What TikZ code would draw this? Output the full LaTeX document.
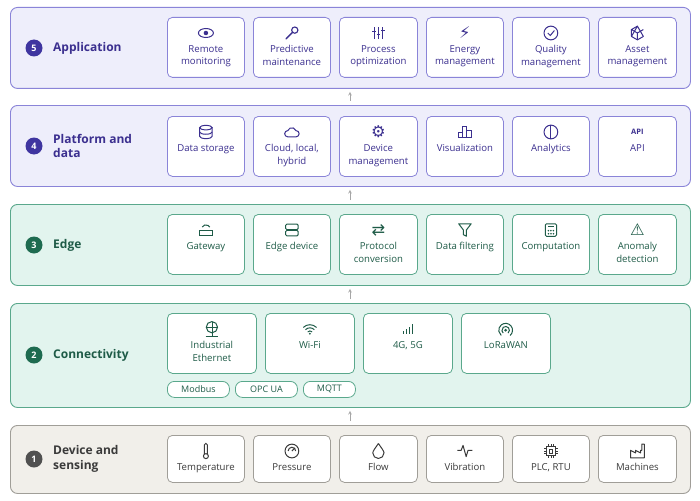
\documentclass[tikz,border=0pt]{standalone}
\usepackage{fontspec}
\setmainfont{Open Sans}
\newfontfamily\symf{DejaVu Sans}
\usetikzlibrary{calc}
\definecolor{pfill}{HTML}{EEEEFB}\definecolor{pline}{HTML}{8A84D8}\definecolor{ptext}{HTML}{3B2F8F}\definecolor{pbadge}{HTML}{3F35A0}
\definecolor{gfill}{HTML}{E2F4EE}\definecolor{gline}{HTML}{5AA88C}\definecolor{gtext}{HTML}{1E5B47}\definecolor{gbadge}{HTML}{1E6B50}
\definecolor{yfill}{HTML}{F1EFEA}\definecolor{yline}{HTML}{A09E98}\definecolor{ytext}{HTML}{3A3A3A}\definecolor{ybadge}{HTML}{505050}
\tikzset{
 band/.style={draw=#1line, fill=#1fill, rounded corners=7pt, line width=0.9pt, anchor=north west, inner sep=0},
 item/.style={draw=#1line, fill=white, rounded corners=5pt, line width=0.8pt, anchor=north west, inner sep=0},
 itxt/.style={text=#1text, font=\fontsize{9.6}{12.8}\selectfont, align=center, anchor=north, inner sep=0},
 icon/.style={text=#1text, font=\symf\fontsize{13}{13}\selectfont, inner sep=0, scale=1.25},
 badge/.style={circle, fill=#1badge, text=white, font=\bfseries\fontsize{9}{9}\selectfont, minimum size=17pt, inner sep=0},
 title/.style={text=#1text, font=\fontsize{12}{14.5}\selectfont\bfseries, align=left, anchor=west, inner sep=0},
 pill/.style={draw=#1line, fill=white, rounded corners=7pt, line width=0.8pt, text=#1text, font=\fontsize{9}{10}\selectfont, minimum height=16pt, inner sep=0, anchor=north west},
 arr/.style={draw=gray!70, line width=0.6pt, ->, >=stealth},
}
% \bx{name}{colour}{x}{top}{w}{h}{icon}{text}
\newcommand{\bx}[8]{%
 \node[item=#2, minimum width=#5pt, minimum height=#6pt] (#1) at (#3,#4) {};
 \node[icon=#2] (#1i) at ($(#1.north)+(0,16)$) {#7};
 \node[itxt=#2] (#1t) at ($(#1.north)+(0,28)$) {#8};}
\begin{document}
\begin{tikzpicture}[x=1pt,y=-1pt]
\useasboundingbox (0,0) rectangle (700,500);
\fill[white] (0,0) rectangle (700,500);
% bands
\node[band=p, minimum width=680pt, minimum height=81pt] (b5) at (10,7) {};
\node[band=p, minimum width=680pt, minimum height=81pt] (b4) at (10,105) {};
\node[band=g, minimum width=680pt, minimum height=81pt] (b3) at (10,204) {};
\node[band=g, minimum width=680pt, minimum height=104pt] (b2) at (10,303) {};
\node[band=y, minimum width=680pt, minimum height=68pt] (b1) at (10,425) {};
% titles
\node[badge=p] (n5) at (34,48) {5}; \node[title=p] (t5) at (53,48) {Application};
\node[badge=p] (n4) at (34,146) {4}; \node[title=p] (t4) at (53,146) {Platform and\\data};
\node[badge=g] (n3) at (34,245) {3}; \node[title=g] (t3) at (53,245) {Edge};
\node[badge=g] (n2) at (34,355) {2}; \node[title=g] (t2) at (53,355) {Connectivity};
\node[badge=y] (n1) at (34,459) {1}; \node[title=y] (t1) at (53,459) {Device and\\sensing};
% layer 5
\bx{a1}{p}{167}{17}{77}{60}{\tikz{\draw[ptext,line width=.8pt] (0,0) ellipse (6pt and 3.6pt);\fill[ptext] (0,0) circle (1.8pt);}}{Remote\\monitoring}
\bx{a2}{p}{253}{17}{77}{60}{\tikz{\draw[ptext,line width=1.1pt,line cap=round] (-4pt,-4pt)--(1.5pt,1.5pt);\draw[ptext,line width=.9pt] (3pt,3pt) circle (2.5pt);}}{Predictive\\maintenance}
\bx{a3}{p}{339}{17}{78}{60}{\tikz{\foreach \x/\k in {-3.5/1.5,0/-1.5,3.5/2}{\draw[ptext,line width=.8pt] (\x pt,-5pt)--(\x pt,5pt);\draw[ptext,line width=.9pt] (\x pt-1.5pt,\k pt)--(\x pt+1.5pt,\k pt);}}}{Process\\optimization}
\bx{a4}{p}{426}{17}{77}{60}{⚡}{Energy\\management}
\bx{a5}{p}{512}{17}{77}{60}{\tikz{\draw[ptext,line width=.8pt] (0,0) circle (5.5pt);\draw[ptext,line width=.8pt] (-2.5pt,0)--(-0.5pt,-2pt)--(2.8pt,2pt);}}{Quality\\management}
\bx{a6}{p}{598}{17}{78}{60}{\tikz{\draw[ptext,line width=.8pt,line join=round] (90:5.5pt)--(210:5.5pt)--(270:5.5pt)--(330:5.5pt)--cycle;\draw[ptext,line width=.8pt] (90:5.5pt)--(150:5.5pt)--(210:5.5pt) (150:5.5pt)--(0,0)--(30:5.5pt) (0,0)--(270:5.5pt);}}{Asset\\management}
% layer 4
\bx{p1}{p}{167}{116}{77}{60}{\tikz{\draw[ptext,line width=.8pt] (0,3pt) ellipse (5pt and 1.8pt);\draw[ptext,line width=.8pt] (-5pt,3pt)--(-5pt,-4pt) arc(180:360:5pt and 1.8pt)--(5pt,3pt);\draw[ptext,line width=.8pt] (-5pt,-0.5pt) arc(180:360:5pt and 1.8pt);}}{Data storage}
\bx{p2}{p}{253}{116}{77}{60}{\tikz{\draw[ptext,line width=.8pt,line join=round] (-4pt,-3pt) arc(270:90:2.5pt) arc(160:20:3.5pt) arc(90:-90:2.5pt)--cycle;}}{Cloud, local,\\hybrid}
\bx{p3}{p}{339}{116}{78}{60}{⚙}{Device\\management}
\bx{p4}{p}{426}{116}{77}{60}{\tikz{\draw[ptext,line width=.8pt] (-5pt,-4pt) rectangle (-1.6pt,0pt) (-1.6pt,-4pt) rectangle (1.6pt,4pt) (1.6pt,-4pt) rectangle (5pt,1.5pt);}}{Visualization}
\bx{p5}{p}{512}{116}{77}{60}{\tikz{\draw[ptext,line width=.8pt] (0,0) circle (5.5pt);\draw[ptext,line width=.8pt] (0,-5.5pt)--(0,5.5pt);}}{Analytics}
\bx{p6}{p}{598}{116}{78}{60}{{\fontspec{Open Sans}\bfseries\fontsize{6}{6}\selectfont API}}{API}
% layer 3
\bx{e1}{g}{167}{214}{77}{60}{\tikz{\draw[gtext,line width=.8pt] (-5pt,-4pt) rectangle (5pt,0pt);\draw[gtext,line width=.8pt] (-3pt,3pt) arc(150:30:3.5pt);}}{Gateway}
\bx{e2}{g}{253}{214}{77}{60}{\tikz{\draw[gtext,line width=.8pt,rounded corners=1pt] (-5pt,-4.5pt) rectangle (5pt,0pt) (-5pt,0.5pt) rectangle (5pt,5pt);}}{Edge device}
\bx{e3}{g}{339}{214}{78}{60}{⇄}{Protocol\\conversion}
\bx{e4}{g}{426}{214}{77}{60}{\tikz{\draw[gtext,line width=.8pt,line join=round] (-5pt,5pt)--(5pt,5pt)--(1.2pt,0pt)--(1.2pt,-5pt)--(-1.2pt,-3.8pt)--(-1.2pt,0pt)--cycle;}}{Data filtering}
\bx{e5}{g}{512}{214}{77}{60}{\tikz{\draw[gtext,line width=.8pt,rounded corners=1pt] (-4.5pt,-5pt) rectangle (4.5pt,5pt);\draw[gtext,line width=.8pt] (-2.5pt,2.5pt)--(2.5pt,2.5pt);\fill[gtext] (-2pt,-0.5pt) circle(.7pt) (0,-0.5pt) circle(.7pt) (2pt,-0.5pt) circle(.7pt) (-2pt,-3pt) circle(.7pt) (0,-3pt) circle(.7pt) (2pt,-3pt) circle(.7pt);}}{Computation}
\bx{e6}{g}{598}{214}{78}{60}{⚠}{Anomaly\\detection}
% layer 2
\bx{c1}{g}{167}{313}{89}{60}{\tikz{\draw[gtext,line width=.8pt] (0,1.5pt) circle (4.5pt);\draw[gtext,line width=.6pt] (-4.5pt,1.5pt)--(4.5pt,1.5pt) (0,6pt)--(0,-6pt) (-5pt,-6pt)--(5pt,-6pt);}}{Industrial\\Ethernet}
\bx{c2}{g}{265}{313}{89}{60}{\tikz{\foreach \r in {2.5,5,7.5}{\draw[gtext,line width=.8pt] (45:\r pt) arc(45:135:\r pt);}\fill[gtext] (0,0.3pt) circle(.8pt);}}{Wi-Fi}
\bx{c3}{g}{363}{313}{89}{60}{\tikz{\foreach \i in {0,1,2,3}{\fill[gtext] (\i*2.4pt,0) rectangle ++(1.4pt,2pt+\i*1.8pt);}}}{4G, 5G}
\bx{c4}{g}{461}{313}{89}{60}{\tikz{\fill[gtext] (0,0) circle(1.2pt);\draw[gtext,line width=.8pt] (-50:3pt) arc(-50:230:3pt);\draw[gtext,line width=.8pt] (-50:5.5pt) arc(-50:230:5.5pt);}}{LoRaWAN}
\node[pill=g, minimum width=62pt] (m1) at (167,381) {Modbus};
\node[pill=g, minimum width=62pt] (m2) at (235,381) {OPC UA};
\node[pill=g, minimum width=52pt] (m3) at (303,381) {MQTT};
% layer 1
\bx{d1}{y}{167}{435}{77}{47}{\tikz{\draw[ytext,line width=.8pt] (0,-4pt) circle(2pt);\draw[ytext,line width=.8pt] (-1.2pt,-2.4pt)--(-1.2pt,5pt) arc(180:0:1.2pt)--(1.2pt,-2.4pt);}}{Temperature}
\bx{d2}{y}{253}{435}{77}{47}{\tikz{\draw[ytext,line width=.8pt] (0,0) circle(5.5pt);\draw[ytext,line width=.8pt] (-3pt,0) arc(180:0:3pt);\draw[ytext,line width=.8pt] (0,0)--(2.5pt,2.5pt);}}{Pressure}
\bx{d3}{y}{339}{435}{78}{47}{\tikz{\draw[ytext,line width=.8pt,line join=round] (0,6pt) .. controls (-2pt,3pt) and (-4.5pt,0) .. (-4.5pt,-1.5pt) arc(180:360:4.5pt) .. controls (4.5pt,0) and (2pt,3pt) .. (0,6pt);}}{Flow}
\bx{d4}{y}{426}{435}{77}{47}{\tikz{\draw[ytext,line width=.8pt,line join=round] (-6pt,0)--(-3pt,0)--(-1.5pt,4pt)--(1pt,-5pt)--(2.5pt,0)--(6pt,0);}}{Vibration}
\bx{d5}{y}{512}{435}{77}{47}{\tikz{\draw[ytext,line width=.8pt] (-3.5pt,-3.5pt) rectangle (3.5pt,3.5pt);\draw[ytext,line width=.5pt] (-1.5pt,-1.5pt) rectangle (1.5pt,1.5pt);\foreach \t in {-2,0,2}{\draw[ytext,line width=.5pt] (\t pt,3.5pt)--(\t pt,5.5pt) (\t pt,-3.5pt)--(\t pt,-5.5pt) (3.5pt,\t pt)--(5.5pt,\t pt) (-3.5pt,\t pt)--(-5.5pt,\t pt);}}}{PLC, RTU}
\bx{d6}{y}{598}{435}{78}{47}{\tikz{\draw[ytext,line width=.8pt,line join=round] (-6pt,-5pt)--(-6pt,1pt)--(-2pt,-1pt)--(-2pt,1pt)--(2pt,-1pt)--(2pt,1pt)--(3pt,1pt)--(3pt,6pt)--(5pt,6pt)--(5pt,-5pt)--cycle;}}{Machines}
% arrows
\foreach \lo/\hi in {b4/b5,b3/b4,b2/b3,b1/b2}{
 \draw[arr] ($(\lo.north west)+(340,-4)$) -- ($(\hi.south west)+(340,3)$);}
\end{tikzpicture}
\end{document}
